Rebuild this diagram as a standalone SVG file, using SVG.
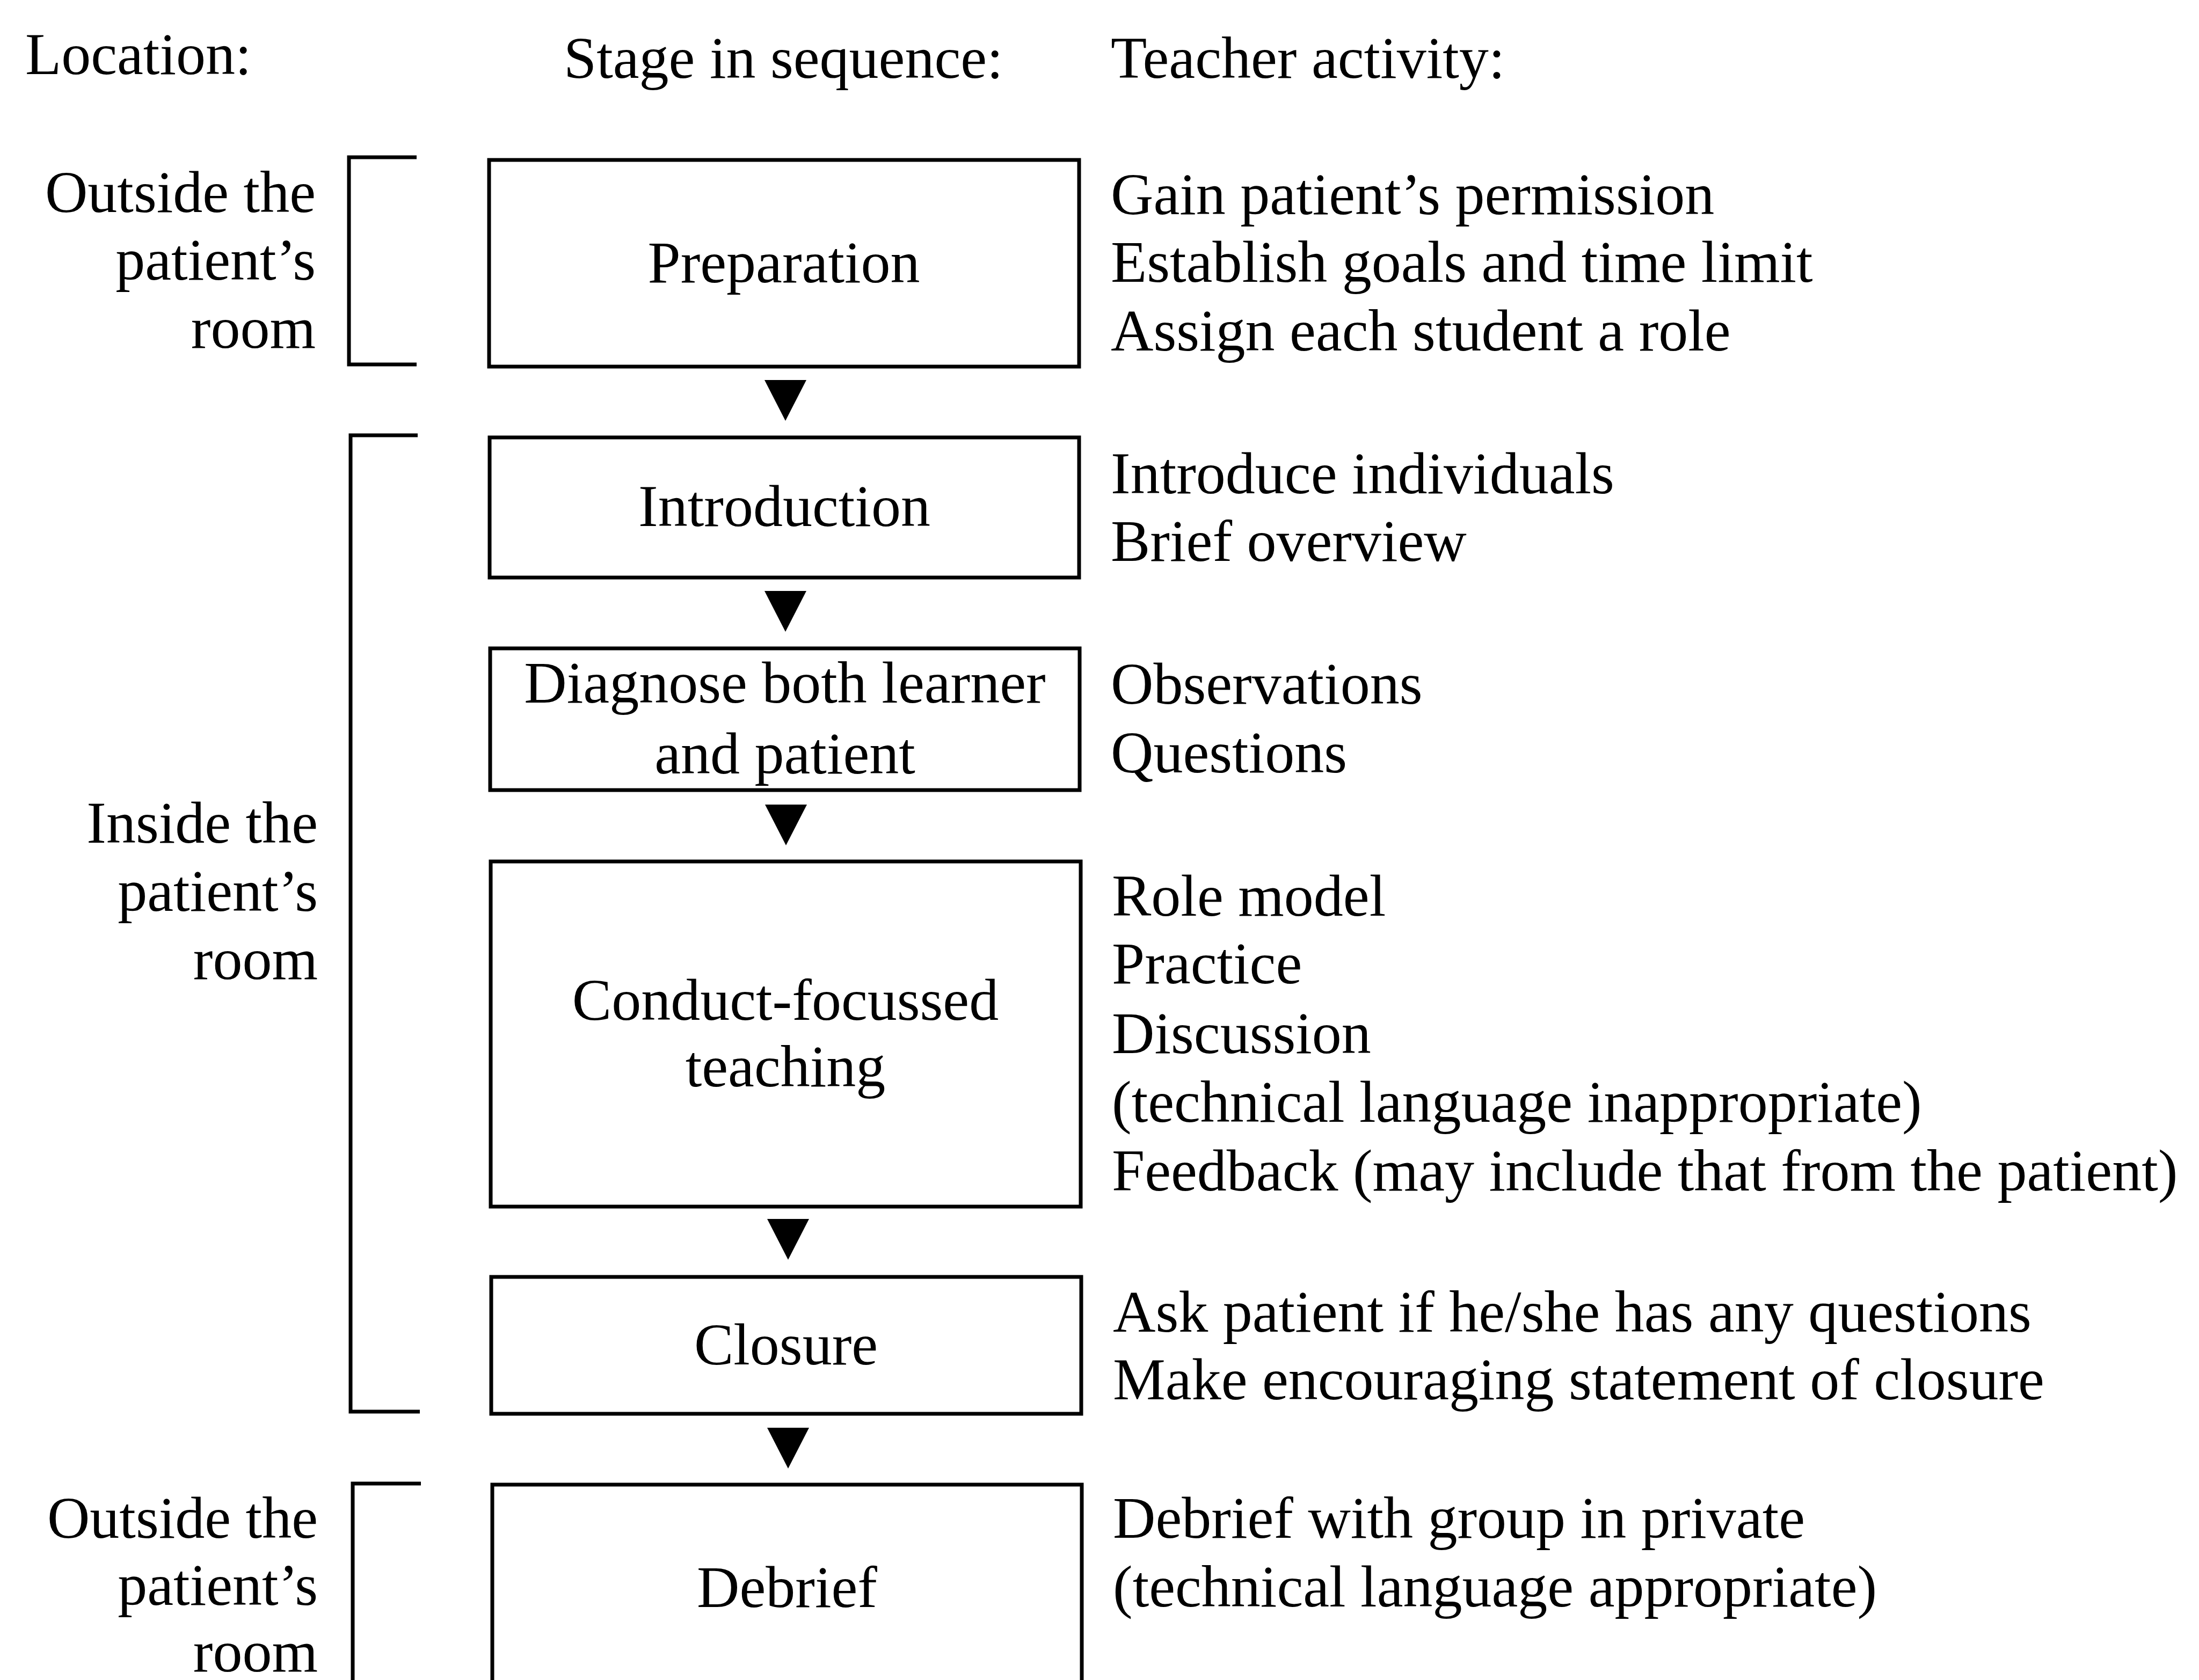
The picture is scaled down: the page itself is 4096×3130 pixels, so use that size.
<svg xmlns="http://www.w3.org/2000/svg" width="4096" height="3130" viewBox="0 0 4096 3130">
  <style>
    text { font-family: "Liberation Serif", "Times New Roman", serif; font-size: 110px; fill: #000; }
    .c { text-anchor: middle; }
    .r { text-anchor: end; }
    .box { fill: #fff; stroke: #000; stroke-width: 7; }
    .brk { fill: none; stroke: #000; stroke-width: 7; stroke-linejoin: miter; }
  </style>
  <defs>
    <!-- downward flow arrowhead, tip at origin -->
    <path id="tri" d="M -39 -76 L 39 -76 L 0 0 Z" fill="#000"/>
  </defs>
  <rect width="4096" height="3130" fill="#fff"/>

  <!-- column headings -->
  <g id="headings">
    <text x="47" y="138">Location:</text>
    <text x="1050" y="145">Stage in sequence:</text>
    <text x="2069" y="145">Teacher activity:</text>
  </g>

  <!-- location brackets and labels -->
  <g id="loc-outside-1">
    <path class="brk" d="M 776 293 L 650 293 L 650 679 L 776 679"/>
    <text class="r" x="588" y="395">Outside the</text>
    <text class="r" x="588" y="521">patient’s</text>
    <text class="r" x="588" y="648">room</text>
  </g>
  <g id="loc-inside">
    <path class="brk" d="M 778 811 L 653 811 L 653 2630 L 782 2630"/>
    <text class="r" x="592" y="1570">Inside the</text>
    <text class="r" x="592" y="1697">patient’s</text>
    <text class="r" x="592" y="1824">room</text>
  </g>
  <g id="loc-outside-2">
    <path class="brk" d="M 784 2764 L 657 2764 L 657 3200"/>
    <text class="r" x="592" y="2865">Outside the</text>
    <text class="r" x="592" y="2990">patient’s</text>
    <text class="r" x="592" y="3114">room</text>
  </g>

  <!-- stage boxes -->
  <g id="preparation">
    <rect class="box" x="911" y="298" width="1099" height="385"/>
    <text class="c" x="1460" y="526">Preparation</text>
  </g>
  <g id="introduction">
    <rect class="box" x="912" y="815" width="1098" height="261"/>
    <text class="c" x="1461" y="980">Introduction</text>
  </g>
  <g id="diagnose">
    <rect class="box" x="913" y="1208" width="1098" height="264"/>
    <text class="c" x="1462" y="1309">Diagnose both learner</text>
    <text class="c" x="1462" y="1441">and patient</text>
  </g>
  <g id="conduct">
    <rect class="box" x="914" y="1605" width="1099" height="643"/>
    <text class="c" x="1463" y="1900">Conduct-focussed</text>
    <text class="c" x="1463" y="2024">teaching</text>
  </g>
  <g id="closure">
    <rect class="box" x="915" y="2379" width="1099" height="255"/>
    <text class="c" x="1464" y="2542">Closure</text>
  </g>
  <g id="debrief">
    <rect class="box" x="917" y="2766" width="1098" height="500"/>
    <text class="c" x="1466" y="2994">Debrief</text>
  </g>

  <!-- arrows between stages -->
  <g id="connectors">
    <use href="#tri" x="1463" y="784"/>
    <use href="#tri" x="1463" y="1177"/>
    <use href="#tri" x="1464" y="1575"/>
    <use href="#tri" x="1468" y="2347"/>
    <use href="#tri" x="1468" y="2736"/>
  </g>

  <!-- teacher activities -->
  <g id="activities">
    <text x="2069" y="399">Gain patient’s permission</text>
    <text x="2069" y="525">Establish goals and time limit</text>
    <text x="2069" y="653">Assign each student a role</text>
    <text x="2069" y="919">Introduce individuals</text>
    <text x="2069" y="1045">Brief overview</text>
    <text x="2069" y="1311">Observations</text>
    <text x="2069" y="1439">Questions</text>
    <text x="2071" y="1706">Role model</text>
    <text x="2071" y="1832">Practice</text>
    <text x="2071" y="1962">Discussion</text>
    <text x="2071" y="2090">(technical language inappropriate)</text>
    <text x="2071" y="2218">Feedback (may include that from the patient)</text>
    <text x="2073" y="2481">Ask patient if he/she has any questions</text>
    <text x="2073" y="2607">Make encouraging statement of closure</text>
    <text x="2073" y="2865">Debrief with group in private</text>
    <text x="2073" y="2993">(technical language appropriate)</text>
  </g>
</svg>
